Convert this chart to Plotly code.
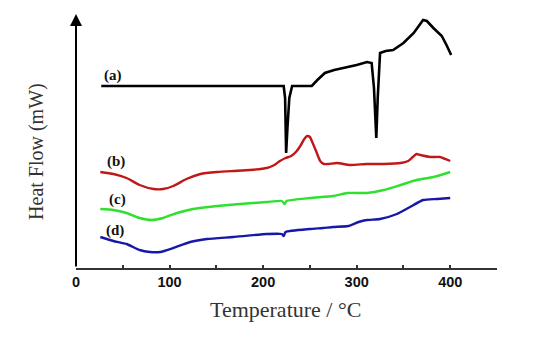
import plotly.graph_objects as go

# Temperature (°C) and heat flow (arbitrary units) for each curve
temp_a = [27, 90, 222, 223.5, 224.6, 226, 228, 231, 252, 258, 266, 276, 286, 300, 311, 316, 318.5, 321, 322.5, 325, 331, 339, 350, 361, 371, 375, 382, 391, 396, 401]
hf_a   = [182, 182, 182, 170, 115, 140, 170, 182, 182, 188, 195, 198, 200, 203, 206, 205, 180, 130, 170, 215, 217, 218, 225, 235, 248, 247, 240, 232, 223, 213]

temp_b = [26, 40, 54, 68, 83, 93, 104, 118, 133, 151, 168, 186, 204, 212, 218, 224, 230, 236, 241, 244, 247, 250, 253, 257, 261, 265, 270, 279, 293, 311, 329, 347, 355, 360, 364, 368, 379, 389, 400]
hf_b   = [96, 94, 90, 83, 79, 79, 82, 89, 94, 96, 97, 98, 100, 103, 107, 110, 112, 117, 124, 129, 132, 131, 125, 116, 107, 104, 104, 105, 103, 104, 104, 105, 107, 111, 114, 113, 111, 111, 107]

temp_c = [26, 40, 54, 68, 81, 93, 108, 125, 151, 175, 204, 220, 223, 225, 250, 275, 290, 311, 329, 347, 364, 382, 400]
hf_c   = [59, 58, 55, 50, 48, 50, 55, 59, 62, 64, 66, 67, 64, 67, 70, 72, 75, 75, 78, 83, 88, 91, 96]

temp_d = [26, 40, 54, 68, 79, 90, 104, 122, 140, 168, 204, 220, 222, 224, 250, 264, 275, 291, 302, 311, 325, 343, 357, 371, 386, 400]
hf_d   = [31, 27, 24, 18, 16, 16, 20, 26, 29, 31, 34, 34, 32, 36, 39, 40, 41, 42, 46, 48, 49, 54, 61, 68, 69, 70]

curve_labels = ["(a)", "(b)", "(c)", "(d)"]
label_pos_t = [40, 43, 44, 42]
label_pos_hf = [193, 107, 69, 38]

x_tickvals = [0, 100, 200, 300, 400]

fig = go.Figure()
series = [
    (temp_a, hf_a, "#000000", 2.6, "linear"),
    (temp_b, hf_b, "#c01818", 2.4, "spline"),
    (temp_c, hf_c, "#2fe02f", 2.4, "spline"),
    (temp_d, hf_d, "#1818a8", 2.4, "spline"),
]
for t, h, c, w, s in series:
    line = dict(color=c, width=w, shape=s)
    if s == "spline":
        line["smoothing"] = 0.5
    fig.add_trace(go.Scatter(x=t, y=h, mode="lines", line=line,
                             showlegend=False, hoverinfo="skip"))

annotations = []
for lab, xt, yh in zip(curve_labels, label_pos_t, label_pos_hf):
    annotations.append(dict(x=xt, y=yh, xref="x", yref="y", text="<b>" + lab + "</b>",
                            showarrow=False, font=dict(family="Liberation Serif", size=15, color="#111")))

# y axis with arrow
annotations.append(dict(x=0, y=254, ax=0, ay=0, xref="x", yref="y", axref="x", ayref="y",
                        text="", showarrow=True, arrowhead=2, arrowsize=1.2, arrowwidth=2,
                        arrowcolor="#000"))

annotations.append(dict(x=223.5, y=-0.165, xref="x", yref="paper", text="Temperature / °C",
                        xanchor="center", yanchor="middle",
                        showarrow=False, font=dict(family="Liberation Serif", size=22, color="#333")))
annotations.append(dict(x=-0.0926, y=0.457, xref="paper", yref="paper", text="Heat Flow (mW)",
                        xanchor="center", yanchor="middle",
                        textangle=-90, showarrow=False,
                        font=dict(family="Liberation Serif", size=20, color="#333")))

fig.update_layout(
    width=540, height=347,
    margin=dict(l=76, r=43, t=14, b=79),
    paper_bgcolor="white", plot_bgcolor="white",
    annotations=annotations,
    xaxis=dict(range=[0, 450], tickvals=x_tickvals, ticktext=[str(v) for v in x_tickvals],
               showgrid=False, zeroline=False, showline=True, linecolor="#333", linewidth=2,
               ticks="inside", ticklen=3, tickcolor="#333", tickwidth=1.5,
               minor=dict(dtick=50, tick0=0, ticks="inside", ticklen=3, tickcolor="#333"),
               tickfont=dict(family="Liberation Sans", size=14.5, color="#111", weight="bold")),
    yaxis=dict(range=[0, 254], showgrid=False, zeroline=False, showline=False,
               showticklabels=False, ticks=""),
)

fig.write_html("out.html")
